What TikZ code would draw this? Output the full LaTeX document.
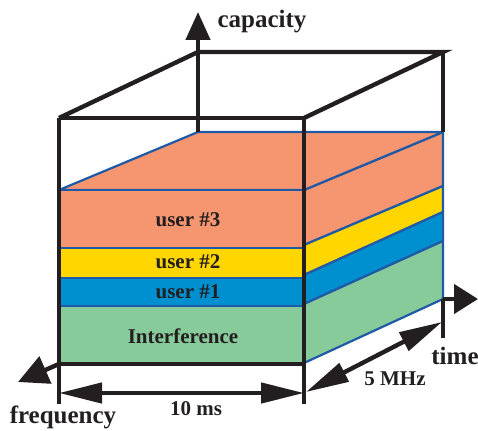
\documentclass[tikz,border=0pt]{standalone}
\usepackage{fontspec}
\setmainfont{Liberation Serif}
\usetikzlibrary{arrows.meta}
\definecolor{ink}{HTML}{231F20}
\definecolor{edgeblue}{HTML}{1F5AA6}
\definecolor{salmon}{HTML}{F69670}
\definecolor{gold}{HTML}{FFD600}
\definecolor{azure}{HTML}{0090D0}
\definecolor{mint}{HTML}{88CB9A}

\begin{document}
\begin{tikzpicture}[x=1pt,y=-1pt,
  frame/.style={draw=ink,line width=4.4pt,line join=miter},
  layer/.style={draw=edgeblue,line width=2.2pt,line join=round},
  axis/.style={draw=ink,line width=4.4pt},
  dimline/.style={draw=ink,line width=4.4pt,
    {Triangle[length=43pt,width=20pt]}-{Triangle[length=43pt,width=20pt]}},
  biglabel/.style={font=\bfseries\fontsize{25}{25}\selectfont,text=ink,inner sep=0pt},
  lbl/.style={font=\bfseries\fontsize{21}{21}\selectfont,text=ink,inner sep=0pt}]

\useasboundingbox (0,0) rectangle (478,430);

% key corners of the box
\coordinate (ftl) at (59,118);
\coordinate (ftr) at (304,118);
\coordinate (fbl) at (59,364);
\coordinate (fbr) at (304,364);
\coordinate (btl) at (198,52);
\coordinate (btr) at (443,52);

% right (side) faces of the stacked layers
\filldraw[layer,fill=salmon] (304,190) -- (443,132) -- (443,186) -- (304,245) -- cycle;
\filldraw[layer,fill=gold]   (304,245) -- (443,186) -- (443,212) -- (304,275) -- cycle;
\filldraw[layer,fill=azure]  (304,275) -- (443,212) -- (443,241) -- (304,304) -- cycle;
\filldraw[layer,fill=mint]   (304,304) -- (443,241) -- (443,299) -- (304,363) -- cycle;

% top face of the stack
\filldraw[layer,fill=salmon] (59,190) -- (198,132) -- (443,132) -- (304,190) -- cycle;

% front faces of the layers
\filldraw[layer,fill=salmon] (59,190) rectangle (304,248);
\filldraw[layer,fill=gold]   (59,248) rectangle (304,278);
\filldraw[layer,fill=azure]  (59,278) rectangle (304,306);
\filldraw[layer,fill=mint]   (59,306) rectangle (304,363);

% wire-frame of the box
\draw[frame] (ftl) -- (btl) -- (btr) -- (ftr);
\draw[frame] (ftl) -- (ftr);
\draw[frame] (fbl) -- (fbr);
\draw[frame] (59,118) -- (59,404);
\draw[frame] (304,118) -- (304,404);
\draw[frame] (btr) -- (443,132);
\draw[frame] (443,299) -- (443,338);

% axes
\coordinate (capfoot) at (198,132);
\coordinate (captip) at (198,12);
\coordinate (timefoot) at (443,299);
\coordinate (timetip) at (478,299);
\coordinate (freqfoot) at (59,364);
\coordinate (freqtip) at (18,382);
\draw[axis,-{Triangle[length=28pt,width=24pt]}] (capfoot) -- (captip);
\draw[axis,-{Triangle[length=24pt,width=29pt]}] (timefoot) -- (timetip);
\draw[axis,-{Triangle[length=30pt,width=29pt]}] (freqfoot) -- (freqtip);

% dimension arrows
\coordinate (d1a) at (59,393);
\coordinate (d1b) at (304,393);
\coordinate (d2a) at (306,392);
\coordinate (d2b) at (442,322);
\draw[dimline] (d1a) -- (d1b);
\draw[dimline] (d2a) -- (d2b);

% labels
\node[biglabel] (capacity) at (262,22) {capacity};
\node[biglabel] (freq) at (63,417) {frequency};
\node[biglabel] (time) at (455,356) {time};
\node[lbl] (tenms) at (196,409) {10 ms};
\node[lbl] (fivemhz) at (395,379) {5 MHz};
\node[lbl] (u3) at (188,220) {user \#3};
\node[lbl] (u2) at (188,262) {user \#2};
\node[lbl] (u1) at (188,292) {user \#1};
\node[lbl] (intf) at (183,336) {Interference};
\end{tikzpicture}
\end{document}
